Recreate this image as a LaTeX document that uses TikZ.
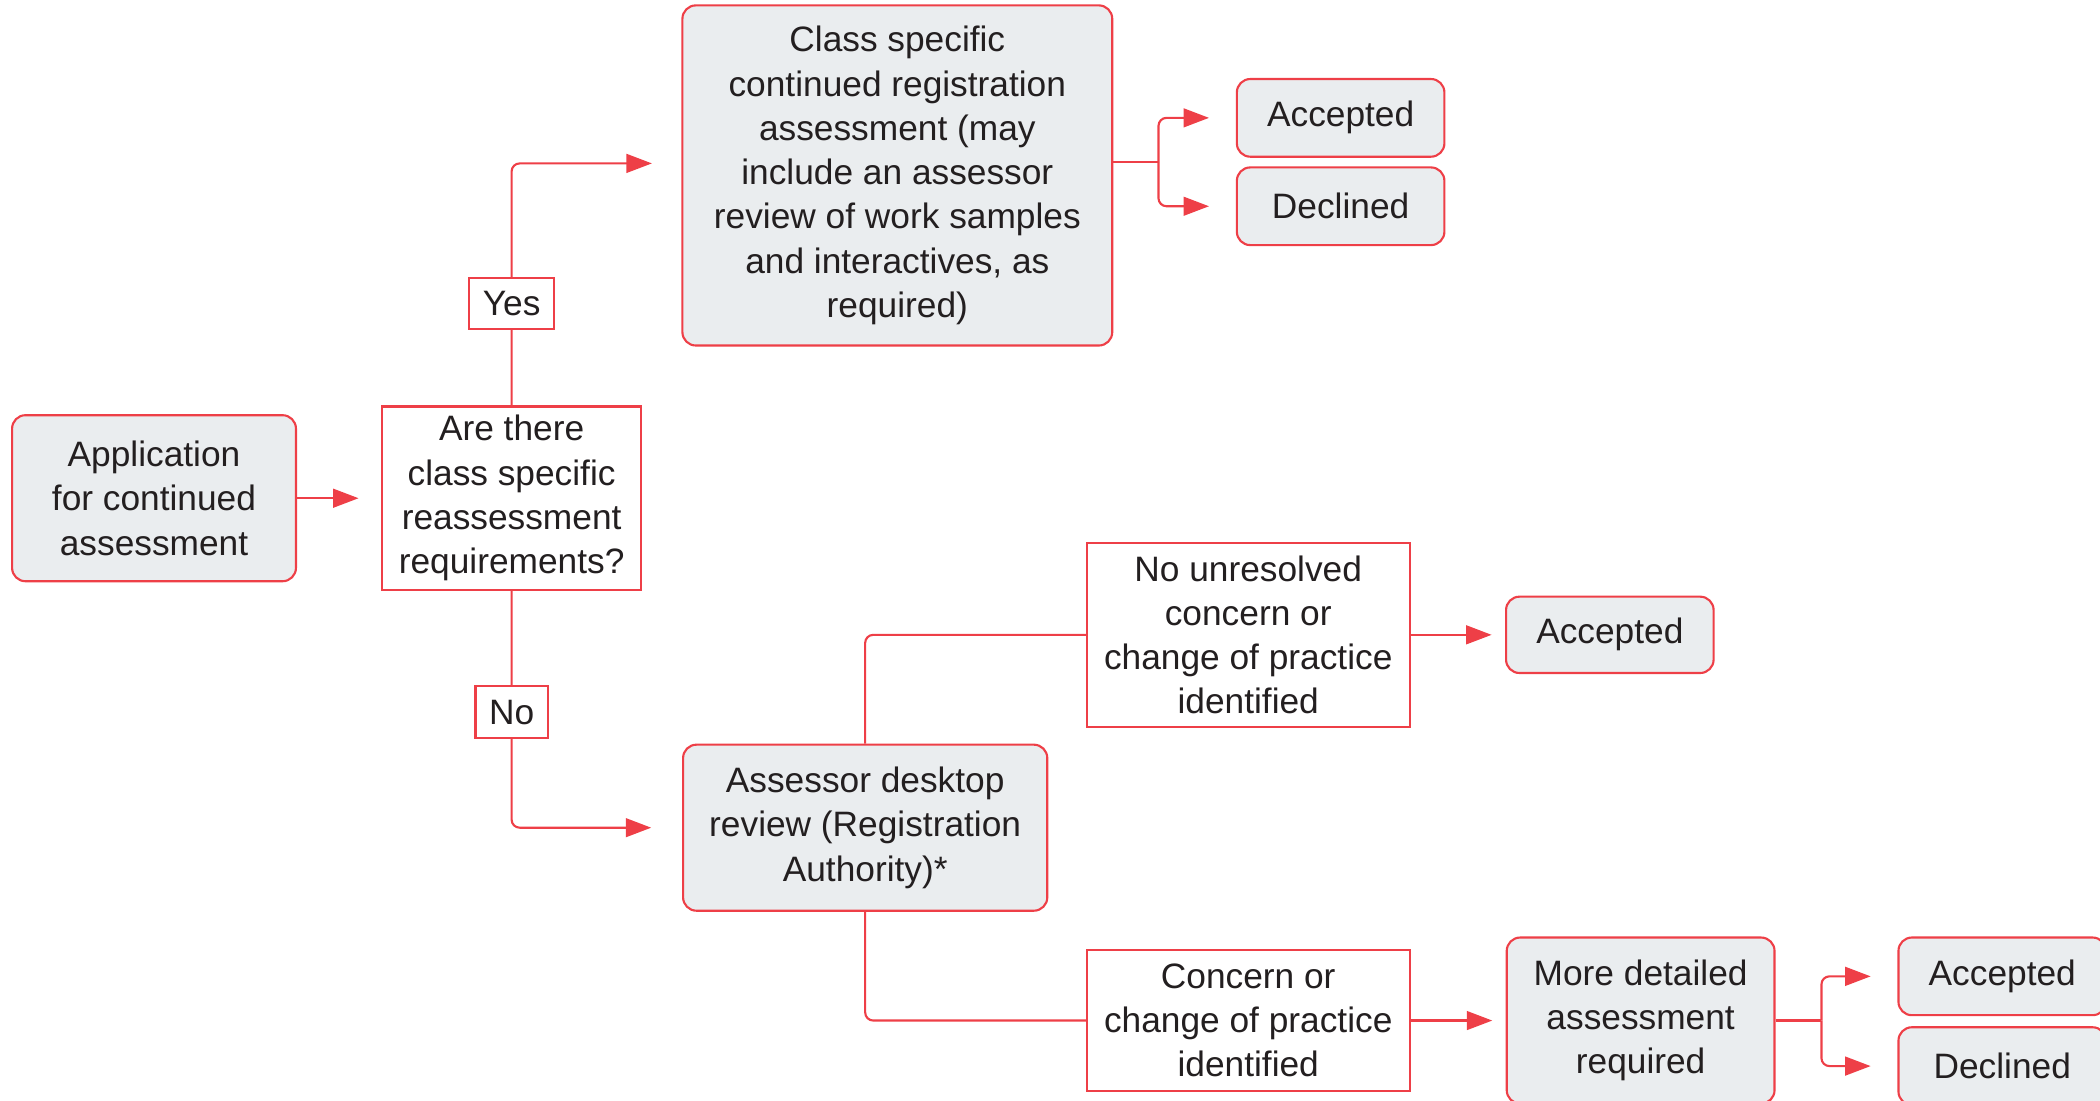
\documentclass[tikz,border=0pt]{standalone}
\usepackage{fontspec}
\setmainfont{Liberation Sans}
\usetikzlibrary{arrows.meta}
\definecolor{flowred}{HTML}{EE3F47}
\definecolor{flowgrey}{HTML}{EAEDEF}
\definecolor{flowtext}{HTML}{231F20}

\begin{document}
\begin{tikzpicture}[x=0.02cm, y=-0.02cm, every node/.style={text=flowtext, align=center, inner sep=0pt, font=\fontsize{15}{18.8}\selectfont}, grey box/.style={draw=flowred, fill=flowgrey, line width=0.9pt, rounded corners=0.2cm}, white box/.style={draw=flowred, fill=white, line width=0.9pt}, tag/.style={draw=flowred, fill=white, line width=0.9pt, sharp corners}, link/.style={draw=flowred, line width=0.9pt, rounded corners=0.12cm}, arr/.style={link, -{Triangle[length=0.38cm, width=0.28cm]}, shorten >=0.4cm}]

\useasboundingbox (0,0) rectangle (1568,822);

\node[grey box, minimum width=4.24cm, minimum height=2.48cm] (app) at (115,372) {Application\\for continued\\assessment};
\node[white box, minimum width=3.86cm, minimum height=2.74cm] (q) at (382,372) {Are there\\class specific\\reassessment\\requirements?};
\node[grey box, minimum width=6.42cm, minimum height=5.08cm] (cls) at (670,131) {Class specific\\continued registration\\assessment (may\\include an assessor\\review of work samples\\and interactives, as\\required)};
\node[grey box, minimum width=3.1cm, minimum height=1.16cm] (acc1) at (1001,88) {Accepted};
\node[grey box, minimum width=3.1cm, minimum height=1.16cm] (dec1) at (1001,154) {Declined};
\node[grey box, minimum width=5.44cm, minimum height=2.48cm] (desk) at (646,618) {Assessor desktop\\review (Registration\\Authority)*};
\node[white box, minimum width=4.82cm, minimum height=2.74cm] (nores) at (932,474) {No unresolved\\concern or\\change of practice\\identified};
\node[grey box, minimum width=3.1cm, minimum height=1.14cm] (acc2) at (1202,474) {Accepted};
\node[white box, minimum width=4.82cm, minimum height=2.1cm] (conc) at (932,762) {Concern or\\change of practice\\identified};
\node[grey box, minimum width=4cm, minimum height=2.48cm] (more) at (1225,762) {More detailed\\assessment\\required};
\node[grey box, minimum width=3.1cm, minimum height=1.16cm] (acc3) at (1495,729) {Accepted};
\node[grey box, minimum width=3.1cm, minimum height=1.16cm] (dec3) at (1495,796) {Declined};

\coordinate (fork1) at (865,121);
\coordinate (fork2) at (1360,762);

\draw[arr, shorten >=0.34cm] (app) -- (q);
\draw[arr, shorten >=0.44cm] (q.north) |- node[tag, pos=0.21, minimum width=1.26cm, minimum height=0.76cm] (yes) {Yes} ([yshift=0.18cm]cls.west);
\draw[arr, shorten >=0.46cm] (q.south) |- node[tag, pos=0.256, minimum width=1.08cm, minimum height=0.78cm] (no) {No} (desk.west);
\draw[link] (cls.east |- fork1) -- (fork1);
\draw[arr] (fork1) |- (acc1);
\draw[arr] (fork1) |- (dec1);
\draw[link] (desk.north) |- (nores.west);
\draw[link] (desk.south) |- (conc.west);
\draw[arr, shorten >=0.2cm] (nores) -- (acc2);
\draw[arr, shorten >=0.2cm] (conc) -- (more);
\draw[link] (more) -- (fork2);
\draw[arr] (fork2) |- (acc3);
\draw[arr] (fork2) |- (dec3);
\end{tikzpicture}
\end{document}
